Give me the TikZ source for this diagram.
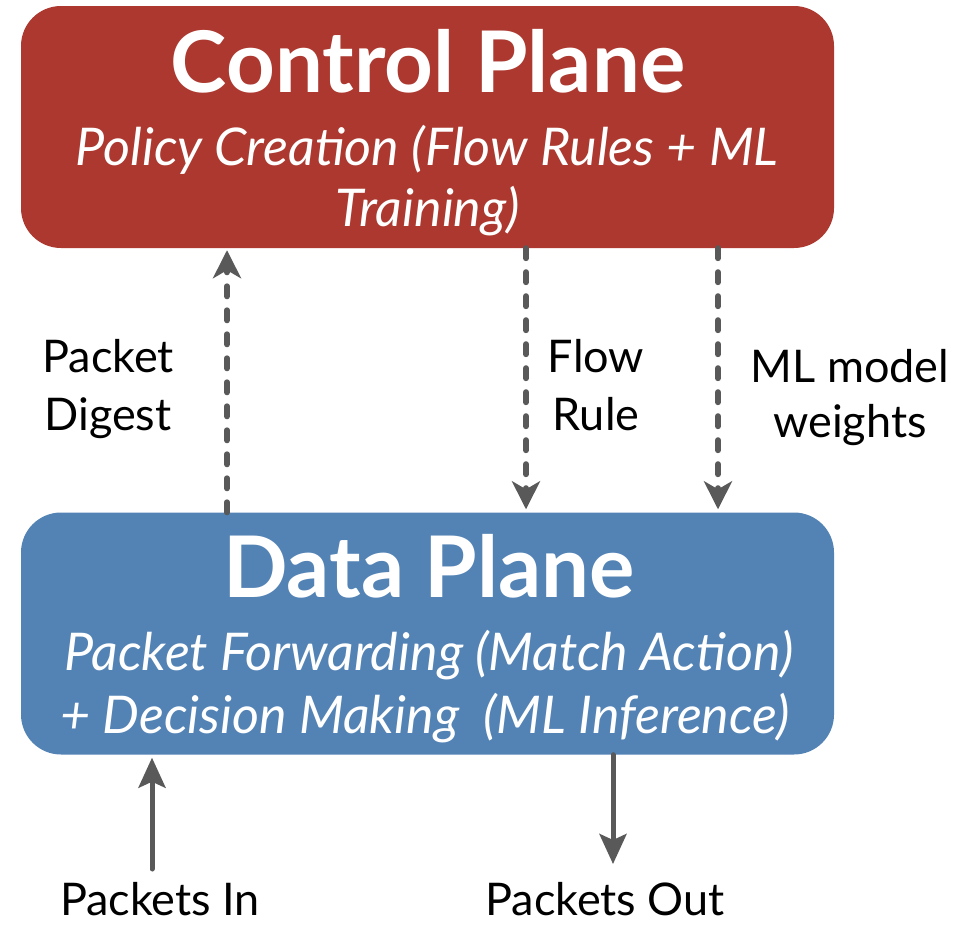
\documentclass[tikz,border=0pt]{standalone}
\usepackage{fontspec}
\setmainfont{Lato}
\usetikzlibrary{arrows.meta}
\definecolor{ctrlred}{HTML}{AC382F}
\definecolor{datablue}{HTML}{5383B5}
\definecolor{arrowgray}{HTML}{595959}
\tikzset{
  planebox/.style={rounded corners=40pt, minimum width=813pt, minimum height=242pt, draw=none},
  title/.style={text=white, font=\bfseries\fontsize{85}{90}\selectfont, anchor=base, inner sep=0pt},
  subtitle/.style={text=white, font=\itshape\fontsize{52}{60}\selectfont, anchor=base, inner sep=0pt},
  lbl/.style={text=black, font=\fontsize{45}{52}\selectfont, anchor=base, inner sep=0pt},
  tip/.style={-{Stealth[length=28pt,width=28pt,inset=8pt]}},
  dasharrow/.style={tip, arrowgray, line width=6pt, line cap=round, dash pattern=on 10pt off 14pt},
  solidarrow/.style={-{Stealth[length=30pt,width=27pt,inset=6pt]}, arrowgray, line width=5pt, line cap=round},
}
\begin{document}
\begin{tikzpicture}[x=1pt,y=-1pt]
\useasboundingbox (0,0) rectangle (963,926);
% planes
\node[planebox, fill=ctrlred] (cp) at (427.5,127) {};
\node[planebox, fill=datablue] (dp) at (427.5,633.5) {};
\node[title] (cpt) at (428,92) {Control Plane};
\node[subtitle] (cps1) at (427,165) {Policy Creation (Flow Rules + ML};
\node[subtitle] (cps2) at (428,226) {Training)};
\node[title] (dpt) at (429,597) {Data Plane};
\node[subtitle] (dps1) at (429,670) {Packet Forwarding (Match Action)};
\node[subtitle] (dps2) at (425,733) {+ Decision Making\ \ (ML Inference)};
% labels between planes
\node[lbl] (dig1) at (108,372) {Packet};
\node[lbl] (dig2) at (108,430) {Digest};
\node[lbl] (fr1) at (596,372) {Flow};
\node[lbl] (fr2) at (596,430) {Rule};
\node[lbl] (ml1) at (850,382) {ML model};
\node[lbl] (ml2) at (850,437) {weights};
\node[lbl] (pin) at (160,915) {Packets In};
\node[lbl] (pout) at (605,915) {Packets Out};
% arrow columns
\coordinate (xdig) at (227,0);
\coordinate (xfr) at (526,0);
\coordinate (xml) at (718,0);
\coordinate (xin) at (152,0);
\coordinate (xout) at (613,0);
\coordinate (inend) at (152,869);
\coordinate (outend) at (613,864);
% connectors
\draw[dasharrow] (dp.north -| xdig) -- ([yshift=-2pt]cp.south -| xdig);
\draw[dasharrow] (cp.south -| xfr) -- ([yshift=3pt]dp.north -| xfr);
\draw[dasharrow] (cp.south -| xml) -- ([yshift=3pt]dp.north -| xml);
\draw[solidarrow] (inend) -- ([yshift=-3pt]dp.south -| xin);
\draw[solidarrow] (dp.south -| xout) -- (outend);
\end{tikzpicture}
\end{document}
